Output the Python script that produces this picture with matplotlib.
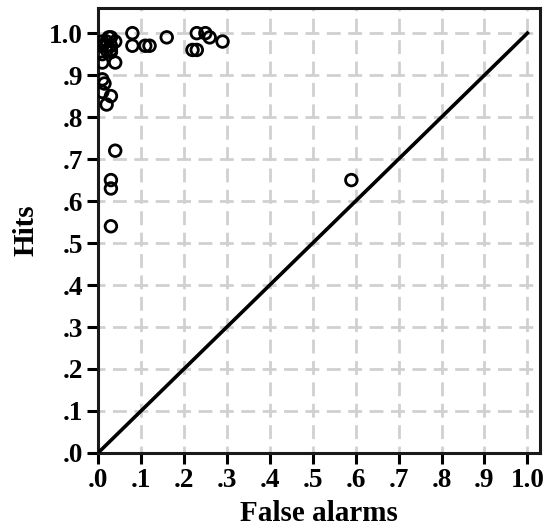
import numpy as np
import matplotlib
matplotlib.use("Agg")
import matplotlib.pyplot as plt
from matplotlib import rcParams

rcParams.update({
    "font.family": "serif",
    "font.serif": ["Liberation Serif", "DejaVu Serif"],
    "font.weight": "bold",
    "lines.scale_dashes": False,
})

# hit / false-alarm rates per observer
false_alarms = [0.59, 0.03, 0.03, 0.03, 0.04,
                0.01, 0.015, 0.01, 0.03, 0.02,
                0.01, 0.04,
                0.01, 0.02, 0.03, 0.04, 0.01, 0.02, 0.03, 0.02, 0.03, 0.01, 0.03, 0.025,
                0.08, 0.08, 0.11, 0.12, 0.16, 0.23, 0.25, 0.26, 0.29, 0.22, 0.23]
hits = [0.65, 0.54, 0.63, 0.65, 0.72,
        0.89, 0.88, 0.86, 0.85, 0.83,
        0.93, 0.93,
        0.98, 0.98, 0.99, 0.98, 0.97, 0.97, 0.97, 0.96, 0.96, 0.95, 0.955, 0.99,
        1.00, 0.97, 0.97, 0.97, 0.99, 1.00, 1.00, 0.99, 0.98, 0.96, 0.96]

ticks = np.round(np.arange(0, 1.01, 0.1), 1)
tick_labels = [".0", ".1", ".2", ".3", ".4", ".5", ".6", ".7", ".8", ".9", "1.0"]

fig = plt.figure(figsize=(5.57, 5.31), dpi=100)
ax = fig.add_axes([0.176, 0.147, 0.794, 0.838])

ax.plot([0, 1], [0, 1], color="black", lw=2.6, zorder=3)
ax.scatter(false_alarms, hits, s=70, facecolors="none", edgecolors="black",
           linewidths=2.0, zorder=4)

ax.set_xlim(0, 1.03)
ax.set_ylim(0, 1.06)
ax.set_xticks(ticks)
ax.set_xticklabels(tick_labels, fontsize=19.5, fontweight="bold")
ax.set_yticks(ticks)
ax.set_yticklabels(tick_labels, fontsize=19.5, fontweight="bold")
ax.tick_params(length=8, width=2.2, pad=3, direction="out")

ax.grid(True, color="#d0d0d0", lw=2.0, linestyle=(5, (10, 5.4)))
ax.set_axisbelow(True)
for sp in ax.spines.values():
    sp.set_linewidth(2.2)
    sp.set_color("#1a1a1a")

ax.set_xlabel("False alarms", fontsize=21, fontweight="bold", labelpad=5)
ax.set_ylabel("Hits", fontsize=21, fontweight="bold", labelpad=7)

fig.savefig("out.png", dpi=100)
